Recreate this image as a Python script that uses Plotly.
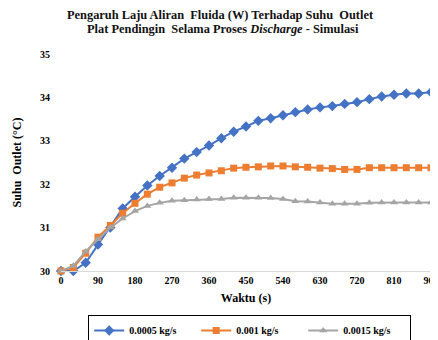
import plotly.graph_objects as go

waktu = list(range(0, 901, 30))
w_00005 = [30.0, 30.0, 30.19, 30.61, 31.0, 31.44, 31.71, 31.97, 32.19, 32.38, 32.59, 32.74, 32.89,
           33.06, 33.21, 33.33, 33.46, 33.52, 33.59, 33.66, 33.72, 33.77, 33.80, 33.85, 33.89,
           33.96, 34.02, 34.06, 34.09, 34.09, 34.12]
w_0001 = [30.0, 30.08, 30.41, 30.78, 31.05, 31.33, 31.56, 31.77, 31.93, 32.03, 32.14, 32.21, 32.26,
          32.31, 32.37, 32.39, 32.40, 32.42, 32.42, 32.40, 32.39, 32.37, 32.36, 32.34, 32.34,
          32.38, 32.38, 32.38, 32.38, 32.38, 32.38]
w_00015 = [30.0, 30.12, 30.45, 30.73, 31.0, 31.21, 31.38, 31.50, 31.57, 31.62, 31.63, 31.65, 31.66,
           31.66, 31.69, 31.69, 31.69, 31.68, 31.66, 31.61, 31.60, 31.58, 31.55, 31.55, 31.55,
           31.57, 31.58, 31.58, 31.58, 31.58, 31.58]
series_names = ["0.0005 kg/s", "0.001 kg/s", "0.0015 kg/s"]
x_ticks = list(range(0, 901, 90))
y_ticks = [30, 31, 32, 33, 34, 35]
title_lines = ["Pengaruh Laju Aliran  Fluida (W) Terhadap Suhu  Outlet",
               "Plat Pendingin  Selama Proses <i>Discharge</i> - Simulasi"]

FONT = "Liberation Serif"
fig = go.Figure()
styles = [("#4472C4", "diamond", 8), ("#ED7D31", "square", 7), ("#A5A5A5", "triangle-up", 7)]
for name, ys, (col, sym, sz) in zip(series_names, [w_00005, w_0001, w_00015], styles):
    fig.add_trace(go.Scatter(x=waktu, y=ys, name=f"<b>{name}</b>", mode="lines+markers",
                             line=dict(color=col, width=2), cliponaxis=False,
                             marker=dict(symbol=sym, size=sz, color=col)))

for txt, xx, yy in zip(title_lines, [0.43, 0.437], [1.18, 1.115]):
    fig.add_annotation(text=f"<b>{txt}</b>", xref="paper", yref="paper", x=xx, y=yy,
                       xanchor="center", yanchor="middle", showarrow=False,
                       font=dict(family=FONT, size=12.4, color="#111111"))

fig.update_layout(
    width=430, height=332,
    margin=dict(l=53, r=7, t=46, b=69, autoexpand=False),
    paper_bgcolor="white", plot_bgcolor="white",
    font=dict(family=FONT, color="#000000", size=11),
    xaxis=dict(range=[0, 900], tickvals=x_ticks, ticktext=[f"<b>{v}</b>" for v in x_ticks],
               showgrid=False, zeroline=False, showline=True, linecolor="#D9D9D9", linewidth=1,
               ticks="", tickfont=dict(size=10, family=FONT), ticklabeloverflow="allow",
               title=dict(text="<b>Waktu (s)</b>", font=dict(size=12, family=FONT), standoff=8)),
    yaxis=dict(range=[30, 35], tickvals=y_ticks, ticktext=[f"<b>{v}</b>" for v in y_ticks],
               showgrid=False, zeroline=False, showline=False, ticks="",
               tickfont=dict(size=10, family=FONT), ticklabelstandoff=10,
               title=dict(text="<b>Suhu  Outlet (°C)</b>", font=dict(size=12, family=FONT), standoff=15)),
    legend=dict(orientation="h", x=0.51, xanchor="center", y=-0.203, yanchor="top",
                bordercolor="#000000", borderwidth=1, font=dict(size=10, family=FONT),
                itemwidth=30, entrywidth=62, entrywidthmode="pixels"),
    showlegend=True,
)

fig.write_html("out.html")
